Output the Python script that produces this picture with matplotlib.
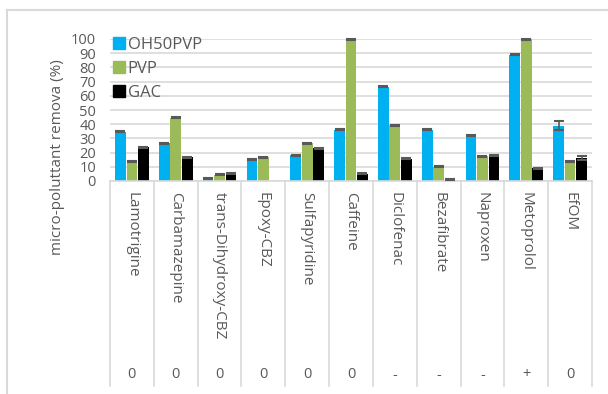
import numpy as np
import matplotlib.pyplot as plt
from matplotlib.lines import Line2D

plt.rcParams['font.family'] = ['Open Sans', 'DejaVu Sans']

# removal per compound for each adsorbent (%)
compounds = ["Lamotrigine", "Carbamazepine", "trans-Dihydroxy-CBZ", "Epoxy-CBZ",
             "Sulfapyridine", "Caffeine", "Diclofenac", "Bezafibrate",
             "Naproxen", "Metoprolol", "EfOM"]
charge = ["0", "0", "0", "0", "0", "0", "-", "-", "-", "+", "0"]

oh50pvp = [34.7, 26.7, 1.7, 15.0, 18.2, 36.2, 66.4, 36.2, 31.9, 88.9, 38.8]
pvp = [14.0, 44.7, 4.5, 16.8, 26.7, 99.8, 39.2, 10.2, 17.3, 99.8, 13.5]
gac = [23.6, 16.8, 5.5, 0.0, 22.9, 5.0, 15.6, 1.0, 17.7, 9.0, 16.3]

oh50pvp_err = [0.3, 0.3, 0.3, 0.3, 0.3, 0.3, 0.3, 0.3, 0.3, 0.3, 3.2]
pvp_err = [0.3, 0.3, 0.3, 0.3, 0.3, 0.3, 0.3, 0.3, 0.3, 0.3, 0.3]
gac_err = [0.3, 0.3, 0.3, 0.0, 0.3, 0.3, 0.3, 0.3, 0.3, 0.3, 1.2]

colors = ["#00B0F0", "#9BBB59", "#000000"]
labels = ["OH50PVP", "PVP", "GAC"]
grey = "#595959"
line_grey = "#D9D9D9"

W, H = 608, 394
fig = plt.figure(figsize=(W / 100, H / 100), dpi=100)
ax = fig.add_axes([110 / W, (H - 181) / H, (592 - 110) / W, (181 - 39) / H])

x = np.arange(len(compounds))
bw = 0.245
offsets = [-0.262, 0.0, 0.262]
series = [oh50pvp, pvp, gac]
errors = [oh50pvp_err, pvp_err, gac_err]
handles = []
for vals, errs, off, col, lab in zip(series, errors, offsets, colors, labels):
    vals = np.array(vals)
    errs = np.array(errs)
    ax.bar(x + off, vals, width=bw, color=col, zorder=2, label=lab)
    has_err = errs > 0
    ax.errorbar((x + off)[has_err], vals[has_err], yerr=errs[has_err], fmt='none',
                ecolor=grey, elinewidth=1.2, capsize=3.7, capthick=1.5,
                zorder=3, clip_on=False)
    handles.append(Line2D([], [], marker='s', linestyle='none', markersize=9,
                          markerfacecolor=col, markeredgecolor=col, label=lab))

ax.set_xlim(-0.5, len(compounds) - 0.5)
ax.set_ylim(0, 100)
ax.set_yticks(np.arange(0, 101, 10))
ax.yaxis.grid(True, color=line_grey, linewidth=1.2, zorder=0)
ax.set_axisbelow(True)
ax.tick_params(axis='y', length=0, pad=10, labelsize=10.5, labelcolor=grey)
ax.set_xticks([])
for s in ["top", "right", "left"]:
    ax.spines[s].set_visible(False)
ax.spines["bottom"].set_color(line_grey)
ax.spines["bottom"].set_linewidth(1.2)

ax.set_ylabel("micro-poluttant remova (%)", fontsize=11, color=grey)
ax.yaxis.set_label_coords(-0.094, 0.17, transform=ax.transAxes)

# category table under the plot
trans = ax.get_xaxis_transform()
depth = (386 - 181) / (181 - 39)
for b in np.arange(-0.5, len(compounds), 1.0):
    ax.plot([b, b], [0, -depth], transform=trans, color=line_grey,
            linewidth=1.2, clip_on=False)
for i, (name, sign) in enumerate(zip(compounds, charge)):
    ax.text(i, -(192 - 181) / 142, name, transform=trans, rotation=-90,
            ha='center', va='top', fontsize=11, color=grey)
    ax.text(i, -(375 - 181) / 142, sign, transform=trans,
            ha='center', va='center', fontsize=10.5, color=grey)

leg = ax.legend(handles=handles, loc='upper left',
                bbox_to_anchor=(102 / W, (H - 25) / H),
                bbox_transform=fig.transFigure, frameon=False, fontsize=12,
                handlelength=0.7, handletextpad=0.15, labelspacing=0.5,
                borderpad=0.2)
for t in leg.get_texts():
    t.set_color(grey)

# outer chart border
fig.add_artist(Line2D([7 / W, 7 / W], [0, (H - 10) / H], color=line_grey, linewidth=1.5))
fig.add_artist(Line2D([7 / W, 1], [(H - 10) / H, (H - 10) / H], color=line_grey, linewidth=1.5))

fig.savefig("out.png", dpi=100)
